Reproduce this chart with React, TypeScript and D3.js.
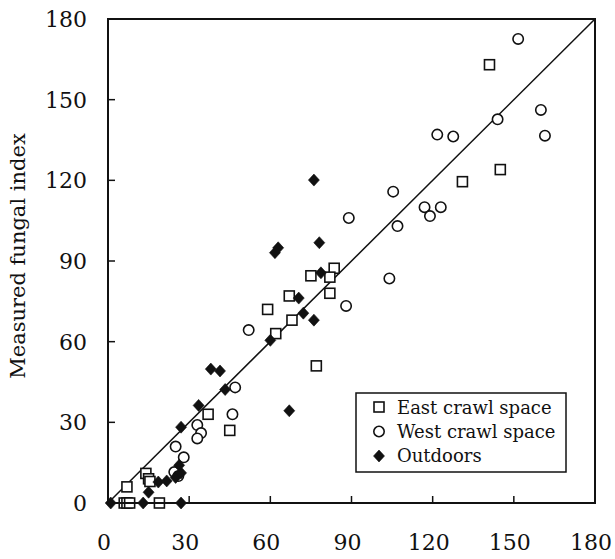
import React from "react";
import * as d3 from "d3";

const axisTicks = [0, 30, 60, 90, 120, 150, 180];

const eastX = [7, 6, 7, 8, 19, 14, 15, 15.5, 37, 45, 59, 62, 68, 67, 77, 75, 83.6, 82, 82, 131, 141, 145];
const eastY = [6, 0, 0, 0, 0, 11, 9, 8, 33, 27, 72, 63, 68, 77, 51, 84.5, 87.3, 84, 78, 119.5, 163, 124];

const westX = [25, 28, 24.5, 26, 33, 34.4, 33, 46, 47, 52, 88, 89, 104, 105.4, 107, 117, 119, 123, 121.7, 127.6, 144, 151.6, 160, 161.5];
const westY = [21, 17, 11.5, 10, 29, 26, 24, 33, 43, 64.3, 73.3, 106, 83.5, 115.8, 103, 110, 106.7, 110, 137, 136.3, 142.7, 172.6, 146.2, 136.6];

const outX = [1, 13, 27, 15, 18.6, 21.7, 25, 27, 26.3, 27, 33.5, 38, 41.4, 43.3, 60, 67, 61.7, 62.9, 70.5, 72.2, 76.1, 76.1, 78.1, 78.7];
const outY = [0, 0, 0, 4, 7.8, 8.2, 9.5, 11.2, 14, 28.2, 36.3, 49.8, 49.1, 42.2, 60.5, 34.3, 93.1, 94.9, 76.2, 70.6, 68, 120.1, 96.8, 85.6];

const legendLabels = ["East crawl space", "West crawl space", "Outdoors"];

const FONT = "'DejaVu Serif', serif";

const Square = ({ x, y }: { x: number; y: number }) => (
  <rect x={x - 5} y={y - 5} width={10} height={10} fill="white" stroke="#111" strokeWidth={1.6} />
);
const Circle = ({ x, y }: { x: number; y: number }) => (
  <circle cx={x} cy={y} r={5.2} fill="white" stroke="#111" strokeWidth={1.6} />
);
const Diamond = ({ x, y }: { x: number; y: number }) => (
  <path d={`M${x},${y - 6}L${x + 5.5},${y}L${x},${y + 6}L${x - 5.5},${y}Z`} fill="#111" stroke="#111" strokeWidth={0.6} />
);

export default function App() {
  const left = 108, right = 595, top = 19, bottom = 503;
  const x = d3.scaleLinear().domain([0, 180]).range([left, right]);
  const y = d3.scaleLinear().domain([0, 180]).range([bottom, top]);
  const lineGen = d3.line<number>().x((d) => x(d)).y((d) => y(d));

  return (
    <svg width={615} height={559} style={{ position: "absolute", left: 0, top: 0, background: "white" }}>
      <rect x={0} y={0} width={615} height={559} fill="white" />
      {/* ticks */}
      {axisTicks.slice(1, -1).map((t) => (
        <g key={"t" + t}>
          <line x1={left} x2={left + 7} y1={y(t)} y2={y(t)} stroke="#111" strokeWidth={1.5} />
          <line x1={x(t)} x2={x(t)} y1={bottom} y2={bottom - 7} stroke="#111" strokeWidth={1.5} />
        </g>
      ))}
      {axisTicks.map((t) => (
        <text key={"yl" + t} x={87} y={y(t)} dy="0.36em" textAnchor="end" fontFamily={FONT} fontSize={22} fill="#111">
          {t}
        </text>
      ))}
      {axisTicks.map((t) => (
        <text key={"xl" + t} x={x(t)} dx={-4} y={550} textAnchor="middle" fontFamily={FONT} fontSize={22} fill="#111">
          {t}
        </text>
      ))}
      <text transform={`translate(25,256) rotate(-90)`} textAnchor="middle" fontFamily={FONT} fontSize={21} fill="#111">
        Measured fungal index
      </text>
      {/* 1:1 line */}
      <path d={lineGen([0, 180]) || ""} stroke="#111" strokeWidth={1.5} fill="none" />
      {/* points */}
      {westX.map((v, i) => (
        <Circle key={"w" + i} x={x(v)} y={y(westY[i])} />
      ))}
      {eastX.map((v, i) => (
        <Square key={"e" + i} x={x(v)} y={y(eastY[i])} />
      ))}
      {outX.map((v, i) => (
        <Diamond key={"o" + i} x={x(v)} y={y(outY[i])} />
      ))}
      {/* frame */}
      <rect x={left} y={top} width={right - left} height={bottom - top} fill="none" stroke="#111" strokeWidth={2} />
      {/* legend */}
      <rect x={356} y={393} width={210} height={79} fill="white" stroke="#111" strokeWidth={1.5} />
      <Square x={379} y={407} />
      <Circle x={379} y={431.5} />
      <Diamond x={379} y={456} />
      {legendLabels.map((l, i) => (
        <text key={l} x={397} y={413.5 + i * 24} fontFamily={FONT} fontSize={18} fill="#111">
          {l}
        </text>
      ))}
    </svg>
  );
}
